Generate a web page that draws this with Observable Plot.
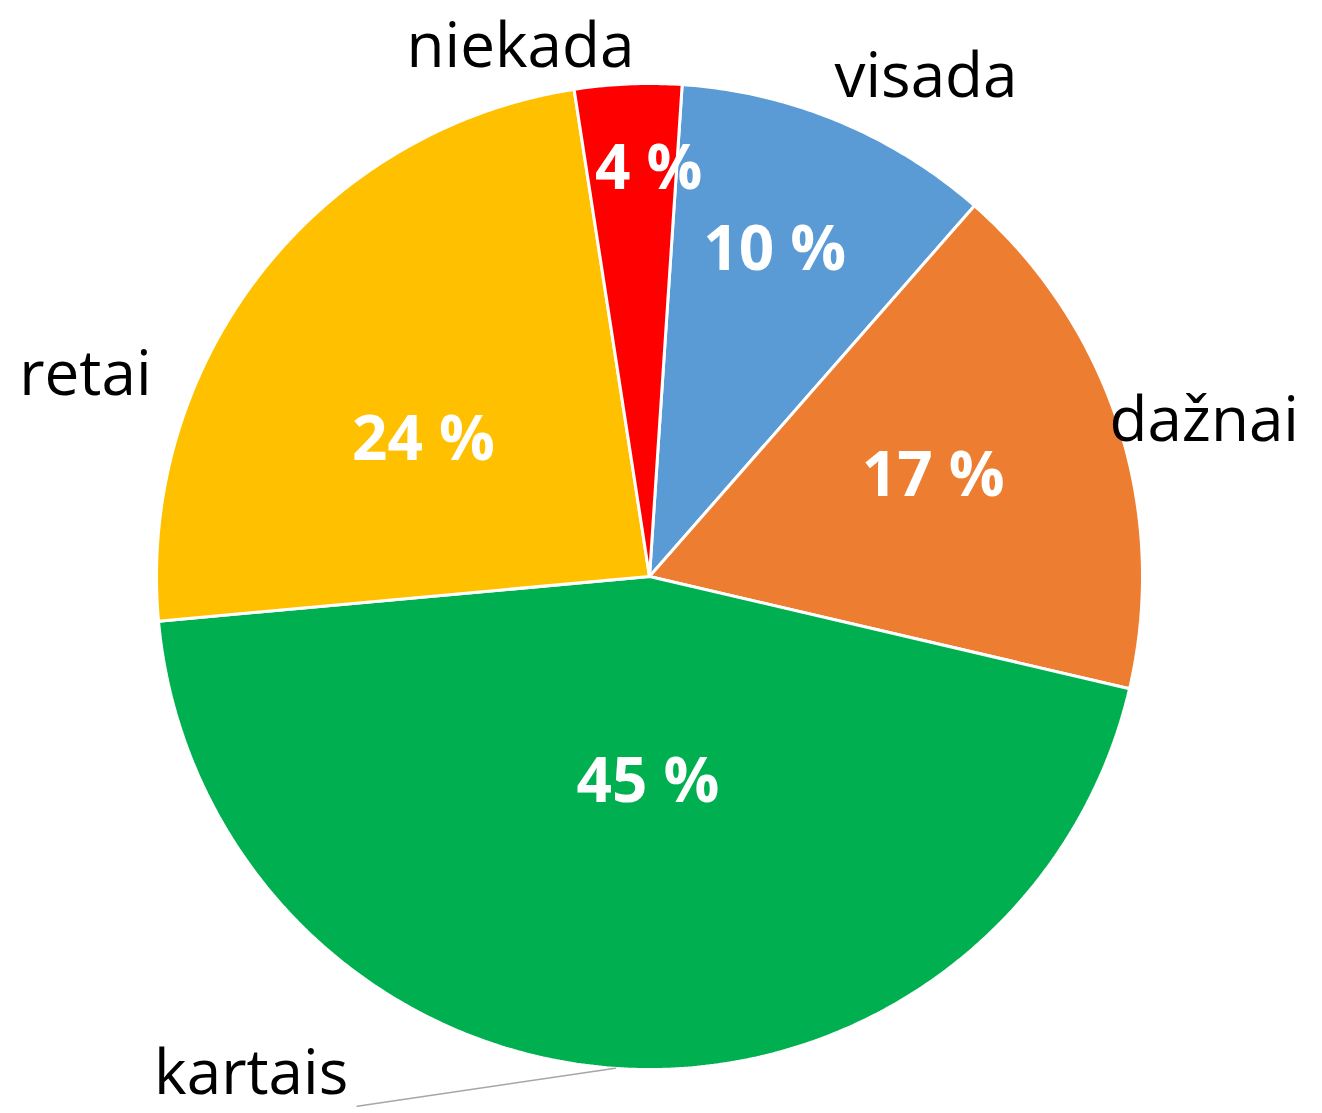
<!DOCTYPE html>
<html>
<head>
<meta charset="utf-8">
<script src="https://cdn.jsdelivr.net/npm/d3@7"></script>
<script src="https://cdn.jsdelivr.net/npm/@observablehq/plot@0.6"></script>
<style>
  html, body { margin: 0; padding: 0; background: #ffffff; }
  #chart svg { display: block; overflow: visible; }
</style>
</head>
<body>
<div id="chart"></div>
<script>
// ---- data ----
const categories = ["visada", "dažnai", "kartais", "retai", "niekada"];
const values = [10.4, 17.2, 44.9, 24.0, 3.5];
const percentLabels = ["10 %", "17 %", "45 %", "24 %", "4 %"];
const colors = ["#5B9BD5", "#ED7D31", "#00B050", "#FFC000", "#FF0000"];

// ---- layout ----
const W = 1322, H = 1113;
const CX = 649, CY = 576, R = 493;
const startDeg = 3.8;
const insideRadius = 0.6, outsideRadius = 1.12;
// pixel nudges from the mid-angle anchor (Excel "best fit" placement)
const insideNudge = [[12, -53], [2, -10], [19, -89], [7, 46], [12, -112]];
const outsideNudge = [[65, 11], [29, 13], [-360, -53], [-129, 139], [-105, 22]];
const leaderEnd = [106, 32]; // offset from kartais label centre
const leaderFor = "kartais";
const FONT = "'Open Sans', 'DejaVu Sans', sans-serif";

const start = startDeg * Math.PI / 180;
const arcs = d3.pie().sort(null).startAngle(start).endAngle(start + 2 * Math.PI)(values);

const px = (a, r) => Math.sin(a) * r;
const py = (a, r) => -Math.cos(a) * r;

// slice polygons
const slicePts = [];
arcs.forEach((arc, i) => {
  const cat = categories[i];
  slicePts.push({cat, x: 0, y: 0});
  const steps = Math.max(4, Math.ceil((arc.endAngle - arc.startAngle) / (Math.PI / 360)));
  for (let k = 0; k <= steps; k++) {
    const a = arc.startAngle + (arc.endAngle - arc.startAngle) * k / steps;
    slicePts.push({cat, x: px(a, 1), y: py(a, 1)});
  }
});

const mid = arcs.map(a => (a.startAngle + a.endAngle) / 2);
const inside = arcs.map((a, i) => ({
  text: percentLabels[i],
  x: px(mid[i], insideRadius) + insideNudge[i][0] / R,
  y: py(mid[i], insideRadius) + insideNudge[i][1] / R
}));
const outside = arcs.map((a, i) => ({
  text: categories[i],
  x: px(mid[i], outsideRadius) + outsideNudge[i][0] / R,
  y: py(mid[i], outsideRadius) + outsideNudge[i][1] / R
}));
const li = categories.indexOf(leaderFor);
const leader = [
  {x: px(mid[li], 1), y: py(mid[li], 1)},
  {x: outside[li].x + leaderEnd[0] / R, y: outside[li].y + leaderEnd[1] / R}
];

const chart = Plot.plot({
  width: W,
  height: H,
  margin: 0,
  style: {background: "#ffffff"},
  x: {domain: [-CX / R, (W - CX) / R], range: [0, W], axis: null},
  y: {domain: [-CY / R, (H - CY) / R], range: [0, H], axis: null},
  color: {domain: categories, range: colors},
  marks: [
    Plot.line(slicePts, {
      x: "x", y: "y", z: "cat", fill: "cat",
      stroke: "#ffffff", strokeWidth: 3, strokeLinejoin: "miter",
      curve: "linear-closed"
    }),
    Plot.line(leader, {x: "x", y: "y", stroke: "#a6a6a6", strokeWidth: 1.5}),
    Plot.text(inside, {
      x: "x", y: "y", text: "text",
      fill: "#ffffff", fontWeight: "bold", fontSize: 62, fontFamily: FONT
    }),
    Plot.text(outside, {
      x: "x", y: "y", text: "text",
      fill: "#000000", fontSize: 62, fontFamily: FONT
    })
  ]
});
document.getElementById("chart").appendChild(chart);
</script>
</body>
</html>
